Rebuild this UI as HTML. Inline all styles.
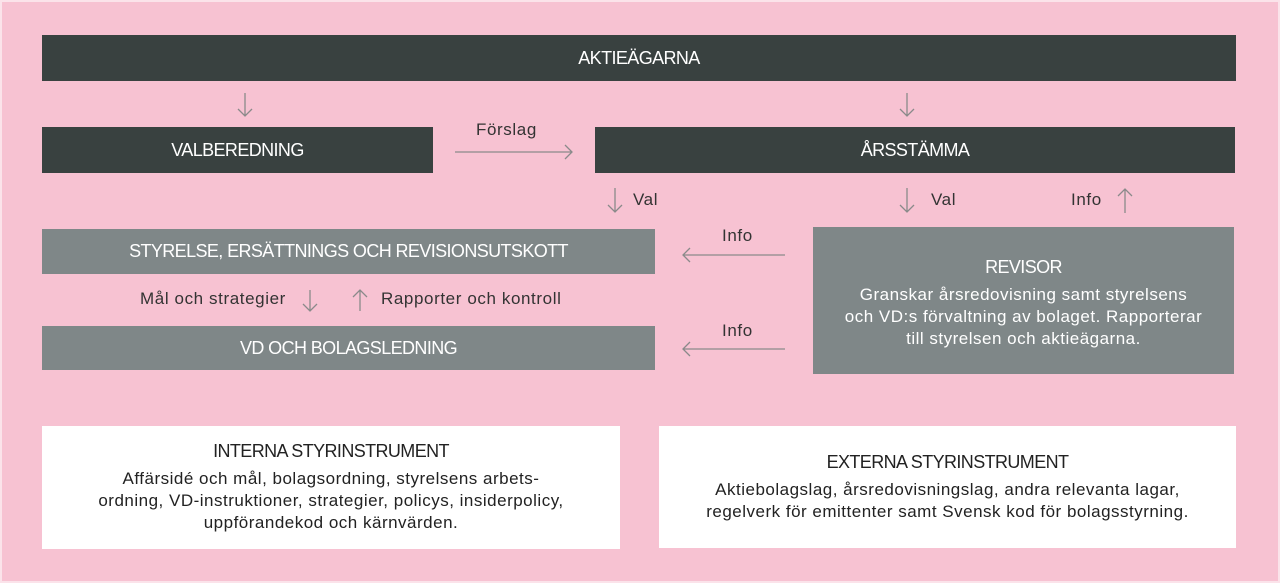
<!DOCTYPE html>
<html><head><meta charset="utf-8"><style>
body{margin:0;width:1280px;height:583px;background:#fbe3ea;position:relative;overflow:hidden;font-family:"Liberation Sans",sans-serif}
#bg{position:absolute;left:2px;top:2px;width:1276px;height:579px;background:#f7c2d2}
.b{position:absolute;display:flex;align-items:center;justify-content:center;color:#fff;font-size:18px;letter-spacing:-0.6px;text-align:center}
.d{background:#394140}.g{background:#7f8788}
.w{background:#fff;color:#222;flex-direction:column}
.t{position:absolute;font-size:17px;letter-spacing:0.6px;color:#333;white-space:nowrap}
.s{font-size:17px;line-height:22px;letter-spacing:0.5px}
svg{position:absolute;left:0;top:0}
</style></head><body><div id="bg"></div>
<div class="b d" style="left:42px;top:35px;width:1194px;height:46px">AKTIEÄGARNA</div>
<div class="b d" style="left:42px;top:127px;width:391px;height:46px">VALBEREDNING</div>
<div class="b d" style="left:595px;top:127px;width:640px;height:46px">ÅRSSTÄMMA</div>
<div class="b g" style="left:42px;top:229px;width:613px;height:45px">STYRELSE, ERSÄTTNINGS OCH REVISIONSUTSKOTT</div>
<div class="b g" style="left:42px;top:326px;width:613px;height:44px">VD OCH BOLAGSLEDNING</div>
<div class="b g" style="left:813px;top:227px;width:421px;height:147px;flex-direction:column;padding-top:6px;box-sizing:border-box">REVISOR<div class="s" style="margin-top:6px">Granskar årsredovisning samt styrelsens<br>och VD:s förvaltning av bolaget. Rapporterar<br>till styrelsen och aktieägarna.</div></div>
<div class="b w" style="left:42px;top:426px;width:578px;height:123px">INTERNA STYRINSTRUMENT<div class="s" style="margin-top:6px">Affärsidé och mål, bolagsordning, styrelsens arbets-<br>ordning, VD-instruktioner, strategier, policys, insiderpolicy,<br>uppförandekod och kärnvärden.</div></div>
<div class="b w" style="left:659px;top:426px;width:577px;height:122px">EXTERNA STYRINSTRUMENT<div class="s" style="margin-top:6px">Aktiebolagslag, årsredovisningslag, andra relevanta lagar,<br>regelverk för emittenter samt Svensk kod för bolagsstyrning.</div></div>
<div class="t" style="left:476px;top:120px">Förslag</div>
<div class="t" style="left:633px;top:190px">Val</div>
<div class="t" style="left:931px;top:190px">Val</div>
<div class="t" style="left:1071px;top:190px">Info</div>
<div class="t" style="left:722px;top:226px">Info</div>
<div class="t" style="left:722px;top:321px">Info</div>
<div class="t" style="left:140px;top:289px">Mål och strategier</div>
<div class="t" style="left:381px;top:289px">Rapporter och kontroll</div>
<svg width="1280" height="583" fill="none" stroke="#8a8a8a" stroke-width="1.3">
<path d="M245 93V116M238 109L245 116L252 109"/>
<path d="M907 93V116M900 109L907 116L914 109"/>
<path d="M455 152H572M565 145L572 152L565 159"/>
<path d="M615 188V212M608 205L615 212L622 205"/>
<path d="M907 188V212M900 205L907 212L914 205"/>
<path d="M1125 189V213M1118 196L1125 189L1132 196"/>
<path d="M683 255H785M690 248L683 255L690 262"/>
<path d="M683 349H785M690 342L683 349L690 356"/>
<path d="M310 290V311M303 304L310 311L317 304"/>
<path d="M360 290V311M353 297L360 290L367 297"/>
</svg>
</body></html>
